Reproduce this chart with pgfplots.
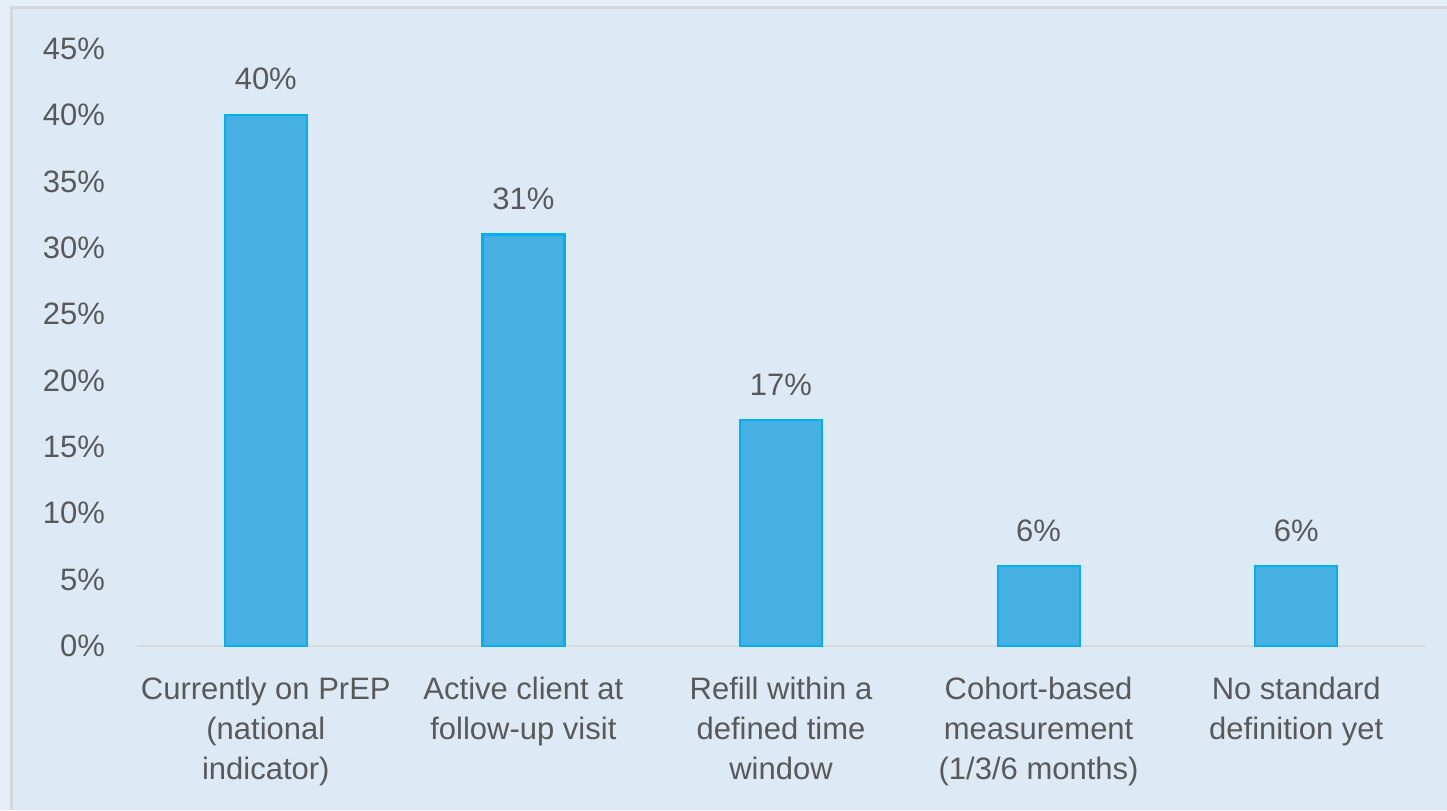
\documentclass[border=0pt]{standalone}
\usepackage{pgfplots}
\pgfplotsset{compat=1.18}
\usepackage{fontspec}
\setmainfont{Liberation Sans}
\definecolor{outerbg}{HTML}{E3EEF9}
\definecolor{innerbg}{HTML}{DDEAF6}
\definecolor{framegray}{HTML}{D6D9DC}
\definecolor{basegray}{HTML}{D9D9D9}
\definecolor{textgray}{HTML}{595959}
\definecolor{barfill}{HTML}{45B0E1}
\definecolor{baredge}{HTML}{00B0F0}
\newcommand{\lblfont}{\fontsize{15.5}{20}\selectfont}
\begin{document}
\begin{tikzpicture}[x=1pt,y=1pt]
\path[use as bounding box] (0,0) rectangle (723.5,405);
\fill[outerbg] (0,0) rectangle (723.5,405);
\fill[innerbg] (5.75,0) rectangle (723.5,401.25);
\draw[framegray, line width=1.5pt] (5.75,0) -- (5.75,401.25) -- (723.5,401.25);
\begin{axis}[
  at={(68.5pt,82pt)}, anchor=south west,
  scale only axis, width=644pt, height=298.7pt,
  xmin=-0.5, xmax=4.5, ymin=0, ymax=45,
  ybar, bar width=41pt,
  axis x line*=bottom, axis y line*=left,
  y axis line style={draw=none},
  x axis line style={draw=basegray, line width=1pt},
  major tick length=0pt,
  ytick={0,5,...,45},
  yticklabel={\pgfmathprintnumber{\tick}\%},
  yticklabel style={text=textgray, font=\lblfont, xshift=-12.5pt},
  xtick=data,
  xticklabels={{Currently on PrEP\\(national\\indicator)},
               {Active client at\\follow-up visit},
               {Refill within a\\defined time\\window},
               {Cohort-based\\measurement\\(1/3/6 months)},
               {No standard\\definition yet}},
  xticklabel style={align=center, text=textgray, font=\lblfont, yshift=-12pt},
  nodes near coords={\pgfmathprintnumber{\pgfplotspointmeta}\%},
  nodes near coords style={text=textgray, font=\lblfont, yshift=8.5pt},
  /pgf/number format/assume math mode=true,
]
\addplot[fill=barfill, draw=baredge, line width=1.1pt] coordinates {
  (0,40) (1,31) (2,17) (3,6) (4,6)
};
\end{axis}
\end{tikzpicture}
\end{document}
